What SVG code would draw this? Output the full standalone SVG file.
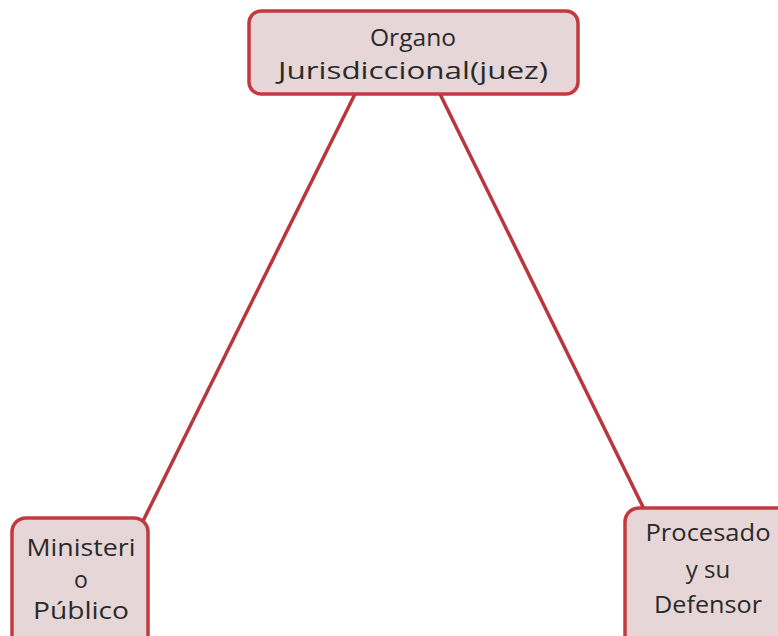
<svg xmlns="http://www.w3.org/2000/svg" width="778" height="636" viewBox="0 0 778 636">
<style>
.box{fill:#e6d6d7;stroke:#c23a40;stroke-width:3.5}
.t{font-family:"Open Sans","Liberation Sans",sans-serif;font-size:24px;fill:#2a2a2a;text-anchor:middle}
.s{font-size:23px}
.c{stroke:#b8363c;stroke-width:3.5;fill:none}
</style>
<rect width="778" height="636" fill="#ffffff"/>
<g id="connectors">
<line class="c" x1="355" y1="94" x2="143" y2="521"/>
<line class="c" x1="440" y1="94" x2="645" y2="511"/>
</g>
<g id="organo">
<rect class="box" x="249" y="11" width="329" height="83" rx="12"/>
<text class="t" x="413" y="46" textLength="86" lengthAdjust="spacingAndGlyphs">Organo</text>
<text class="t" x="413" y="79" textLength="270" lengthAdjust="spacingAndGlyphs">Jurisdiccional(juez)</text>
</g>
<g id="ministerio">
<rect class="box" x="12" y="518" width="136" height="130" rx="14"/>
<text class="t s" x="81" y="556" textLength="109" lengthAdjust="spacingAndGlyphs">Ministeri</text>
<text class="t s" x="81" y="588">o</text>
<text class="t s" x="81" y="619" textLength="96" lengthAdjust="spacingAndGlyphs">Público</text>
</g>
<g id="procesado">
<rect class="box" x="625" y="508" width="170" height="140" rx="14"/>
<text class="t" x="708" y="541" textLength="125" lengthAdjust="spacingAndGlyphs">Procesado</text>
<text class="t" x="708" y="578">y su</text>
<text class="t" x="708" y="613" textLength="108" lengthAdjust="spacingAndGlyphs">Defensor</text>
</g>
</svg>
